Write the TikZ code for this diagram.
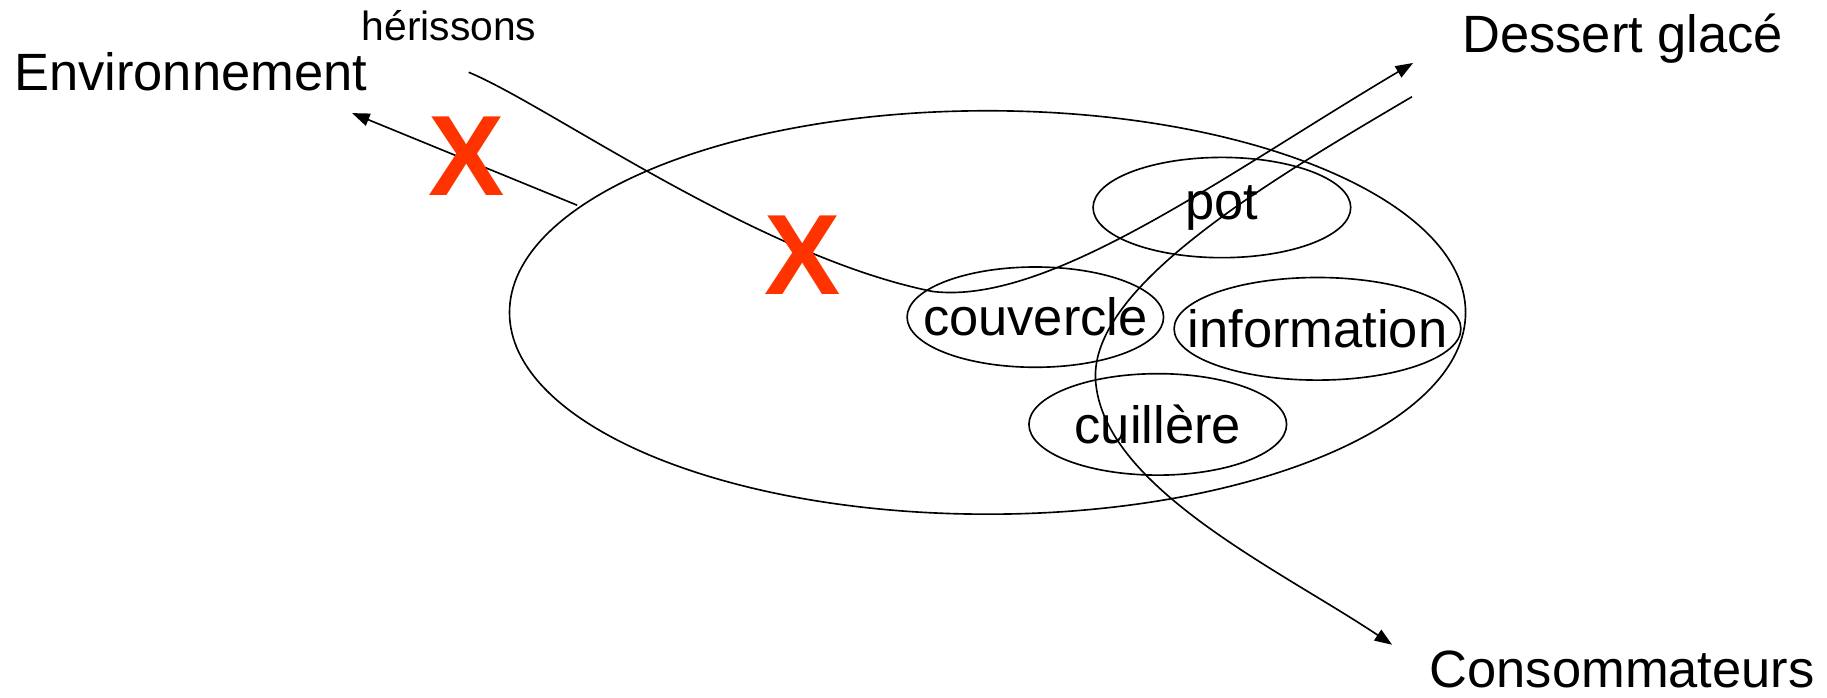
\documentclass[tikz,border=0pt]{standalone}
\usepackage{fontspec}
\setmainfont{Liberation Sans}
\usetikzlibrary{shapes.geometric,arrows.meta}
\definecolor{xred}{HTML}{FF3300}
\newcommand{\zw}[1]{\makebox[0pt]{#1}}
\tikzset{
  ln/.style={line width=1.4pt},
  arr/.style={ln,-{Triangle[length=15pt,width=11pt]}},
  lbl/.style={inner sep=0pt,anchor=base west,font=\fontsize{45}{54}\selectfont},
  small/.style={inner sep=0pt,anchor=base west,font=\fontsize{35}{42}\selectfont},
  oval/.style={ellipse,draw,ln,inner sep=0pt,font=\fontsize{45}{54}\selectfont},
  cross/.style={inner sep=0pt,text=xred,font=\fontsize{98}{110}\selectfont\bfseries}
}
\begin{document}
\begin{tikzpicture}[x=1pt,y=-1pt]
\useasboundingbox (0,0) rectangle (1567,598);
\node[oval,minimum width=820pt,minimum height=346pt] (big) at (847,268) {};
\node[oval,minimum width=221pt,minimum height=86pt] (pot) at (1048,178) {\zw{\raisebox{-6pt}{pot}}};
\node[oval,minimum width=220pt,minimum height=86pt] (couv) at (888,272) {\zw{couvercle}};
\node[oval,minimum width=246pt,minimum height=88pt] (info) at (1130,282) {\zw{information}};
\node[oval,minimum width=221pt,minimum height=87pt] (cuil) at (993,364) {\zw{cuill\`ere}};
\node[lbl] (env) at (12,78) {Environnement};
\node[small] (her) at (310,35) {h\'erissons};
\node[lbl] (des) at (1254,45) {Dessert glac\'e};
\node[lbl] (con) at (1226,590) {Consommateurs};
\coordinate (e0) at (495,176);
\coordinate (e1) at (302,97);
\coordinate (h0) at (402,62);
\coordinate (h1) at (800,250);
\coordinate (h2) at (1212,54);
\coordinate (c0) at (1211,83);
\coordinate (c1) at (940,330);
\coordinate (c2) at (1194,553);
\draw[arr] (e0) -- (e1);
\draw[arr] (h0) .. controls (470,90) and (650,220) .. (h1) .. controls (900,262) and (1050,150) .. (h2);
\draw[arr] (c0) .. controls (1080,160) and (930,250) .. (c1) .. controls (950,420) and (1100,490) .. (c2);
\node[cross] (x1) at (400,134) {X};
\node[cross] (x2) at (688,219) {X};
\end{tikzpicture}
\end{document}
